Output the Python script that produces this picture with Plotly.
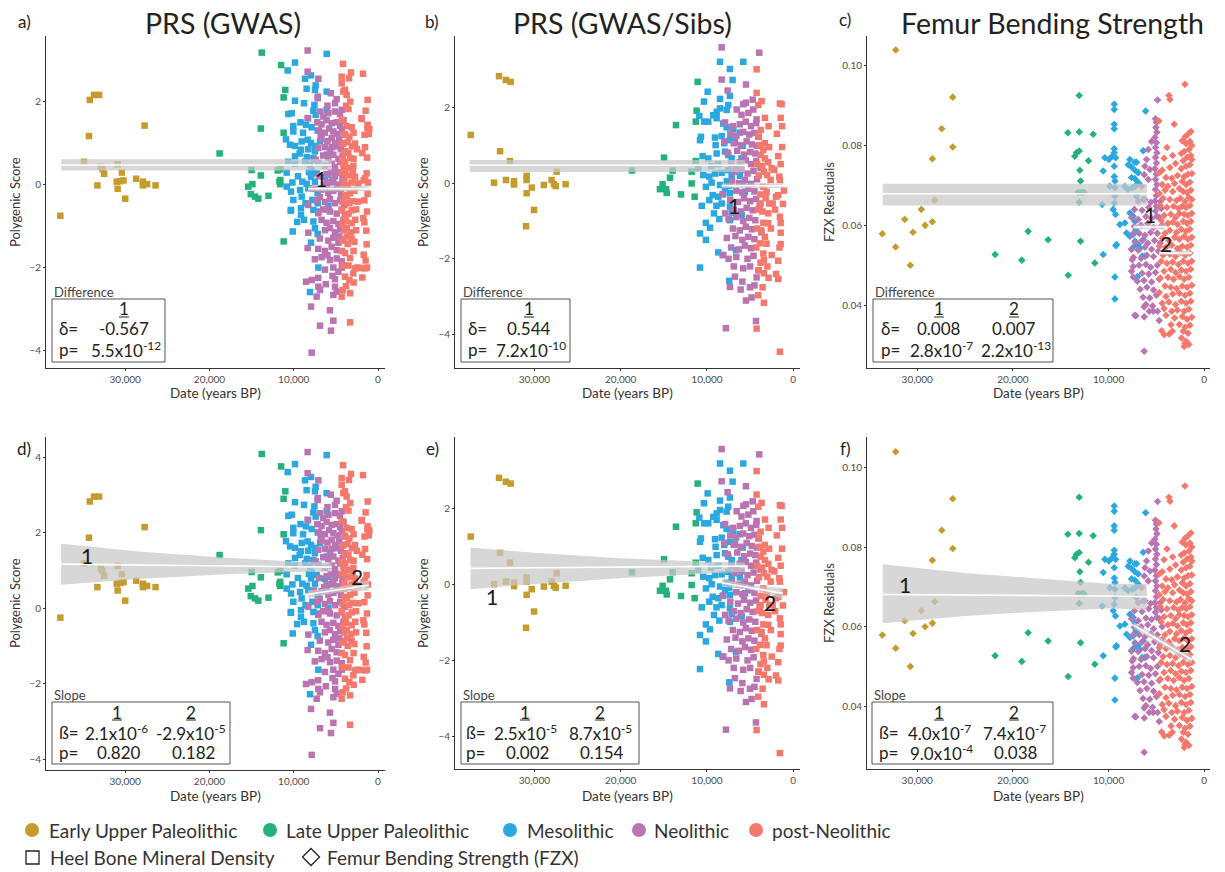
import plotly.graph_objects as go

W, H = 1225, 872
FONT = "Lato"

# ---------------- categories / styling ----------------
period_names = ["Early Upper Paleolithic", "Late Upper Paleolithic", "Mesolithic",
                "Neolithic", "post-Neolithic"]
period_colors = ["#C59B2C", "#23B27A", "#2BA8E0", "#BA74B2", "#F5786C"]
date_ticks = [30, 20, 10, 0]
date_tick_labels = ["30,000", "20,000", "10,000", "0"]

# ---------------- PRS (GWAS): (date ka BP, score in panel a, score in panel d) ----------------
gwas_eup = [(37.7,-0.75,-0.25),(34.9,0.55,1.19),(34.2,2.04,2.83),(33.7,2.16,2.96),(33.1,2.16,2.96),
            (34.3,1.17,1.87),(32.9,0.43,1.05),(32.5,0.26,0.86),(33.3,-0.02,0.56),(32.7,0.37,0.99),
            (30.9,0.49,1.12),(30.4,0.29,0.90),(31.0,0.07,0.65),(30.2,0.10,0.69),(30.9,-0.10,0.47),
            (30.0,-0.34,0.20),(27.7,1.42,2.15),(28.7,0.14,0.73),(27.9,0.07,0.65),(27.9,-0.02,0.56),
            (27.4,0.01,0.59),(26.4,-0.02,0.56),(30.6,0.08,0.67)]
gwas_lup = [(13.8,3.18,4.09),(11.5,2.88,3.76),(11.0,2.28,3.10),(11.2,2.10,2.90),(13.9,1.35,2.07),
            (11.2,1.25,1.96),(18.8,0.75,1.41),(15.0,0.35,0.96),(13.9,0.22,0.82),(11.9,0.34,0.95),
            (11.6,0.11,0.70),(11.6,0.01,0.59),(15.4,-0.05,0.52),(14.9,0.01,0.59),(15.1,-0.23,0.32),
            (14.6,-0.29,0.26),(14.2,-0.34,0.20),(13.0,-0.27,0.28),(11.2,-1.37,-0.93),(11.6,0.37,0.99),
            (11.7,0.07,0.65)]
gwas_meso = [(6.09,3.15,4.06),(9.85,2.94,3.82),(10.72,2.75,3.61),(7.95,2.63,3.48),(8.66,2.55,3.39),
             (6.09,2.24,3.05),(7.4,2.39,3.22),(7.48,2.28,3.10),(8.47,2.31,3.13),(9.85,2.02,2.81),
             (8.78,1.96,2.74),(7.55,1.92,2.70),(6.09,1.80,2.57),(10.64,1.70,2.45),(10.24,1.72,2.48),
             (7.67,1.78,2.54),(7.4,1.68,2.43),(10.05,1.41,2.13),(10.05,1.28,1.99),(8.54,1.44,2.17),
             (7.87,1.38,2.10),(7.16,1.30,2.01),(10.92,1.09,1.78),(10.44,0.96,1.64),(9.85,0.93,1.60),
             (9.06,1.04,1.73),(8.35,1.08,1.77),(7.95,1.0,1.68),(7.48,0.93,1.60),(6.88,1.04,1.73),
             (9.14,0.84,1.51),(8.27,0.85,1.52),(7.48,0.80,1.46),(9.85,0.68,1.33),(8.46,0.66,1.31),
             (7.67,0.64,1.28),(6.09,0.72,1.37),(10.64,0.55,1.19),(9.85,0.50,1.13),(8.66,0.55,1.19),
             (8.07,0.48,1.11),(7.08,0.52,1.15),(10.84,0.29,0.90),(7.87,0.34,0.95),(7.28,0.27,0.88),
             (5.89,0.23,0.83),(10.16,0.05,0.63),(8.98,0.07,0.65),(8.46,0.02,0.60),(7.95,0.19,0.79),
             (7.48,0.07,0.65),(6.29,0.18,0.78),(5.42,0.07,0.65),(10.84,-0.05,0.52),(10.32,-0.17,0.39),
             (9.25,-0.13,0.43),(8.27,-0.09,0.48),(7.16,-0.21,0.35),(6.09,-0.05,0.52),(10.05,-0.37,0.17),
             (9.06,-0.29,0.26),(7.79,-0.37,0.17),(7.16,-0.45,0.08),(5.89,-0.51,0.01),(10.32,-0.61,-0.10),
             (9.14,-0.57,-0.05),(9.14,-0.73,-0.23),(7.67,-0.61,-0.10),(7.08,-0.65,-0.14),(8.78,-0.85,-0.36),
             (7.67,-0.89,-0.40),(7.48,-1.05,-0.58),(10.12,-1.13,-0.67),(7.16,-1.19,-0.74),(7.95,-1.40,-0.97),
             (7.08,-2.0,-1.63),(8.07,-2.59,-2.28),(10.36,-0.63,-0.12),(8.9,1.25,1.96),(9.3,0.75,1.41),
             (8.2,0.3,0.91),(9.5,0.2,0.80),(8.6,-0.45,0.08),(9.6,-0.9,-0.42),(8.3,1.6,2.34),(9.2,1.5,2.23)]
gwas_neo = [(8.35,3.23,4.14),(8.35,2.72,3.58),(7.08,2.55,3.39),(7.16,2.08,2.87),(4.91,2.06,2.85),
            (5.1,1.96,2.74),(6.88,1.76,2.52),(6.49,1.64,2.39),(5.89,1.72,2.48),(5.1,1.76,2.52),
            (4.51,1.70,2.45),(4.31,1.80,2.57),(7.15,2.12,2.92),
            (8.35,1.60,2.34),(7.2,1.50,2.23),(6.7,1.45,2.18),(6.1,1.55,2.29),(5.5,1.48,2.21),
            (4.9,1.50,2.23),(4.5,1.42,2.15),(4.1,1.55,2.29),
            (7.0,1.30,2.01),(6.3,1.25,1.96),(5.8,1.35,2.07),(5.3,1.28,1.99),(4.8,1.22,1.93),
            (4.3,1.32,2.03),(3.9,1.20,1.90),
            (6.7,1.10,1.79),(6.0,1.05,1.74),(5.5,1.12,1.81),(5.1,1.00,1.68),(4.6,1.08,1.77),(4.1,1.00,1.68),
            (7.1,0.88,1.55),(6.3,0.90,1.57),(5.7,0.82,1.48),(4.9,0.92,1.59),(4.4,0.85,1.52),(3.9,0.80,1.46),
            (6.5,0.70,1.35),(5.9,0.65,1.30),(5.3,0.72,1.37),(4.7,0.62,1.26),(4.2,0.68,1.33),
            (6.3,0.45,1.07),(5.5,0.50,1.13),(5.1,0.42,1.04),(4.5,0.55,1.19),(4.0,0.40,1.02),
            (6.1,0.25,0.85),(5.6,0.30,0.91),(5.1,0.20,0.80),(4.6,0.28,0.89),(4.2,0.18,0.78),
            (5.7,0.05,0.63),(5.3,0.10,0.69),(4.8,0.00,0.58),(4.2,0.08,0.67),(6.4,-0.02,0.56),
            (6.7,-0.12,0.45),(5.9,-0.20,0.36),(5.3,-0.15,0.41),(4.9,-0.10,0.47),(4.4,-0.22,0.34),
            (8.27,-0.49,0.04),(7.3,-0.38,0.16),(6.3,-0.42,0.11),(5.7,-0.35,0.19),(5.1,-0.45,0.08),
            (4.5,-0.38,0.16),(4.0,-0.50,0.03),
            (7.1,-0.69,-0.18),(6.5,-0.60,-0.08),(5.7,-0.65,-0.14),(4.9,-0.70,-0.19),(4.3,-0.62,-0.11),
            (3.9,-0.75,-0.25),
            (6.7,-0.85,-0.36),(6.1,-0.92,-0.44),(5.3,-0.88,-0.39),(4.7,-0.95,-0.47),(4.1,-0.85,-0.36),
            (8.27,-1.16,-0.70),(6.3,-1.10,-0.64),(5.7,-1.05,-0.58),(5.1,-1.15,-0.69),(4.5,-1.08,-0.61),
            (6.9,-1.30,-0.86),(5.9,-1.35,-0.91),(5.3,-1.28,-0.84),(4.7,-1.40,-0.97),(4.1,-1.32,-0.88),
            (8.35,-1.53,-1.11),(7.1,-1.55,-1.13),(6.3,-1.60,-1.19),(5.5,-1.50,-1.08),(4.9,-1.58,-1.17),
            (7.5,-1.80,-1.41),(6.7,-1.75,-1.35),(5.7,-1.82,-1.43),(4.9,-1.78,-1.39),(4.3,-1.85,-1.46),
            (6.3,-2.05,-1.69),(5.3,-2.00,-1.63),(4.7,-2.10,-1.74),
            (7.87,-2.30,-1.96),(7.1,-2.25,-1.91),(5.1,-2.28,-1.94),(8.54,-2.34,-2.01),
            (7.08,-2.46,-2.14),(6.88,-2.54,-2.23),(5.1,-2.46,-2.14),(4.91,-2.58,-2.27),(5.3,-2.66,-2.36),
            (7.28,-2.70,-2.40),
            (7.95,-2.94,-2.67),(5.7,-3.03,-2.77),(5.3,-3.28,-3.04),(6.88,-3.40,-3.18),(5.58,-3.52,-3.31),
            (7.87,-4.05,-3.89),
            (6.0,1.9,2.68),(5.6,2.2,3.01),(6.8,1.2,1.90),(5.0,0.3,0.91),(5.9,-0.6,-0.08),(6.9,-0.3,0.25),
            (4.6,-1.25,-0.80),(6.0,-1.7,-1.30),(5.4,-2.2,-1.85),(6.2,-2.4,-2.07),(7.4,0.6,1.24),
            (7.6,-0.1,0.47),(7.0,0.2,0.80),(4.3,-2.0,-1.63),(5.5,0.9,1.57),(6.1,0.05,0.63)]
gwas_post = [(4.15,2.91,3.79),(3.21,2.70,3.56),(3.44,2.56,3.40),(1.78,2.67,3.53),(4.31,2.60,3.45),
             (4.31,2.44,3.27),(4.11,2.24,3.05),(3.92,2.28,3.10),(3.72,2.16,2.96),(1.23,2.04,2.83),
             (3.52,1.82,2.59),(1.47,1.78,2.54),(1.94,1.58,2.32),(1.23,1.44,2.17),(1.03,1.34,2.06),
             (4.31,1.56,2.30),(3.72,1.41,2.13),(3.13,1.38,2.10),
             (4.0,1.22,1.93),(3.4,1.15,1.85),(2.9,1.25,1.96),(1.6,1.20,1.90),
             (4.2,0.98,1.66),(3.6,1.02,1.70),(2.73,0.99,1.67),(3.1,0.92,1.59),
             (4.0,0.78,1.44),(3.52,0.76,1.42),(1.54,0.90,1.57),(1.86,0.76,1.42),(2.5,0.85,1.52),
             (4.3,0.60,1.24),(3.32,0.64,1.28),(2.9,0.62,1.26),(1.3,0.65,1.30),
             (4.11,0.47,1.10),(2.93,0.45,1.07),(3.6,0.40,1.02),
             (3.92,0.27,0.88),(2.73,0.19,0.79),(1.35,0.27,0.88),(1.54,0.15,0.74),(3.4,0.22,0.82),
             (4.3,0.30,0.91),
             (3.13,0.05,0.63),(2.34,0.03,0.61),(4.0,0.08,0.67),(3.6,-0.02,0.56),(1.2,0.05,0.63),
             (1.7,0.10,0.69),
             (4.11,-0.05,0.52),(3.32,-0.21,0.35),(1.23,-0.22,0.34),(2.8,-0.15,0.41),(3.9,-0.25,0.30),
             (2.34,-0.41,0.13),(1.62,-0.38,0.16),(3.72,-0.29,0.26),(4.2,-0.42,0.11),(3.0,-0.40,0.14),
             (3.13,-0.62,-0.11),(3.92,-0.77,-0.27),(1.31,-0.65,-0.14),(3.5,-0.70,-0.19),(2.6,-0.60,-0.08),
             (4.3,-0.60,-0.08),
             (1.74,-0.81,-0.32),(1.62,-0.91,-0.43),(3.13,-0.93,-0.45),(3.8,-0.88,-0.39),(4.2,-0.95,-0.47),
             (2.7,-0.85,-0.36),
             (3.72,-1.05,-0.58),(1.39,-1.11,-0.65),(3.2,-1.15,-0.69),(4.0,-1.10,-0.64),
             (3.13,-1.30,-0.86),(3.6,-1.43,-1.00),(1.35,-1.44,-1.01),(4.2,-1.35,-0.91),(2.8,-1.38,-0.95),
             (3.92,-1.65,-1.24),(3.32,-1.77,-1.38),(1.7,-1.69,-1.29),(1.47,-1.83,-1.44),(4.3,-1.60,-1.19),
             (2.9,-1.60,-1.19),
             (4.11,-1.95,-1.57),(2.73,-2.02,-1.65),(2.14,-2.01,-1.64),(1.54,-2.02,-1.65),(3.5,-1.95,-1.57),
             (1.3,-2.00,-1.63),(2.45,-2.00,-1.63),
             (2.93,-2.14,-1.78),(3.92,-2.22,-1.87),(2.89,-2.36,-2.03),(1.86,-2.24,-1.90),(3.4,-2.30,-1.96),
             (4.19,-2.54,-2.23),(4.31,-2.70,-2.40),(3.32,-2.62,-2.31),(3.8,-2.45,-2.13),
             (3.32,-3.32,-3.09),
             (1.93,1.60,2.34),(1.26,1.37,2.09),(1.1,1.22,1.93),
             (3.8,1.9,2.68),(3.3,2.0,2.79),(4.0,0.0,0.58),(3.0,0.3,0.91),(3.7,-1.25,-0.80),
             (3.9,0.55,1.19),(2.6,-1.1,-0.64),(3.4,-0.45,0.08)]

# ---------------- PRS (GWAS/Sibs): (date ka BP, score) -- panels b and e ----------------
sibs_eup = [(37.38,1.27),(34.1,2.82),(33.3,2.72),(32.75,2.67),(33.98,0.84),(32.83,0.58),(34.68,0.01),
            (33.29,0.08),(32.36,0.05),(32.36,-0.04),(30.9,0.19),(30.9,0.08),(30.3,-0.12),(30.9,-0.27),
            (30.04,-0.71),(30.97,-1.14),(28.9,-0.05),(28.0,0.08),(27.73,-0.03),(27.53,-0.08),
            (27.42,0.30),(26.38,-0.03)]
sibs_lup = [(11.08,2.67),(11.2,1.91),(11.3,1.62),(13.59,1.53),(14.98,0.67),(18.69,0.33),(13.98,0.33),
            (11.3,0.58),(11.78,0.30),(14.29,0.14),(15.14,-0.03),(15.45,-0.16),(14.75,-0.16),
            (14.67,-0.26),(13.01,-0.30),(11.78,-0.01),(11.43,-0.36)]
sibs_meso = [(8.49,3.2),(5.79,3.2),(7.34,3.01),(7.03,2.72),(9.92,2.41),(8.49,2.22),(7.34,2.30),
             (10.35,2.15),(7.53,2.06),(7.72,1.93),(8.49,1.97),(8.88,1.88),(10.89,1.77),(10.31,1.62),
             (9.85,1.62),(9.27,1.79),(8.88,1.71),(8.11,1.57),(7.72,1.47),(6.95,1.42),(10.81,1.13),
             (10.7,1.22),(9.07,1.20),(8.3,1.24),(7.34,1.13),(6.76,1.09),(6.18,1.33),(5.87,0.98),
             (10.5,0.71),(9.85,0.65),(8.88,0.78),(7.91,0.83),(7.53,0.74),(7.14,0.65),(6.0,0.65),
             (11.0,0.39),(10.43,0.21),(9.73,0.17),(9.07,0.25),(8.3,0.27),(7.53,0.34),(7.14,0.21),
             (6.18,0.19),(10.12,-0.10),(9.46,0.01),(8.49,-0.05),(7.91,-0.14),(7.41,-0.08),(5.79,-0.01),
             (9.34,-0.32),(8.69,-0.36),(8.11,-0.29),(7.34,-0.27),(5.6,-0.23),(9.73,-0.45),(8.3,-0.54),
             (7.34,-0.62),(9.19,-0.80),(7.14,-0.78),(5.98,-0.84),(8.57,-0.95),(7.34,-0.98),
             (10.12,-1.05),(9.65,-1.18),(10.81,-1.33),(10.12,-1.50),(8.69,-1.83),(8.18,-1.90),
             (6.64,-1.77),(10.81,-2.23),(7.41,-2.58),(9.0,1.0),(8.0,1.05),(9.5,0.45),(8.7,0.5),
             (7.7,0.05),(8.9,-0.6),(6.6,0.4),(10.6,-0.6)]
sibs_neo = [(8.3,3.58),(3.94,3.44),(8.3,2.73),(5.48,2.60),(7.61,2.44),(5.48,2.12),(5.79,2.08),
            (6.56,1.94),(4.63,1.94),(4.25,1.68),(4.32,-3.64),(7.8,-3.83),(4.83,-3.02),(5.48,-3.10),
            (6.1,-2.81),(5.02,-2.75),(7.34,-2.74),(6.76,-2.47),(4.25,-2.49),
            (7.9,1.6),(7.0,1.5),(6.2,1.55),(5.5,1.62),(4.9,1.5),(4.3,1.58),
            (7.3,1.3),(6.6,1.25),(5.8,1.35),(5.1,1.28),(4.5,1.32),(4.0,1.22),
            (6.9,1.05),(6.1,1.0),(5.4,1.1),(4.8,1.02),(4.2,0.98),
            (7.6,0.8),(6.5,0.85),(5.7,0.75),(5.0,0.82),(4.4,0.78),
            (6.2,0.55),(5.5,0.6),(4.9,0.5),(4.3,0.58),(7.2,0.5),
            (6.8,0.3),(6.0,0.35),(5.3,0.25),(4.6,0.32),
            (7.1,0.05),(6.3,0.0),(5.6,0.08),(4.9,-0.02),(4.2,0.1),
            (6.6,-0.2),(5.9,-0.25),(5.2,-0.15),(4.5,-0.22),
            (7.3,-0.45),(6.4,-0.5),(5.7,-0.4),(5.0,-0.48),(4.3,-0.42),
            (6.9,-0.7),(6.1,-0.75),(5.4,-0.65),(4.7,-0.72),
            (7.5,-0.95),(6.6,-0.9),(5.8,-1.0),(5.1,-0.92),(4.4,-0.98),
            (7.0,-1.2),(6.2,-1.25),(5.5,-1.15),(4.8,-1.22),
            (7.7,-1.45),(6.7,-1.4),(5.9,-1.5),(5.2,-1.42),(4.5,-1.48),
            (7.2,-1.7),(6.3,-1.75),(5.6,-1.65),(4.9,-1.72),
            (7.5,-2.0),(6.6,-1.95),(5.3,-2.0),(4.6,-1.92),
            (6.9,-2.2),(5.8,-2.25),(5.0,-2.2),
            (8.0,1.1),(8.2,-0.3),(7.9,-0.8),(8.1,-1.9),(3.8,0.4),(3.9,-0.6),(3.7,-1.3),(4.0,-2.3),
            (5.2,1.85),(6.0,1.8),(4.7,2.2),(5.9,-2.6),(4.5,-2.7)]
sibs_post = [(4.25,3.0),(4.25,2.38),(3.67,2.16),(4.06,2.06),(1.55,2.1),(1.35,2.08),(3.28,1.72),
             (1.46,1.72),(2.86,1.5),(3.78,1.40),(4.06,1.22),(3.47,0.87),(3.28,0.65),(2.51,0.39),
             (3.78,0.74),(1.74,0.71),(1.46,0.5),(3.01,0.21),(2.62,0.08),(1.62,0.17),(1.55,0.08),
             (1.08,-0.2),(3.47,-0.1),(3.09,-0.23),(1.74,-0.32),(2.0,-0.36),(3.78,-0.54),(2.78,-0.54),
             (2.39,-0.54),(1.55,-0.89),(1.46,-1.05),(3.47,-1.05),(2.9,-1.06),(3.28,-1.42),(1.46,-1.31),
             (3.86,-1.59),(1.46,-1.61),(3.47,-1.86),(3.4,-2.03),(1.74,-2.05),(4.06,-2.3),(3.4,-2.38),
             (2.86,-2.5),(1.74,-2.53),(3.55,-2.75),(4.06,-2.96),(3.4,-3.16),(4.25,-3.84),(1.55,-4.45),
             (3.9,1.0),(3.3,1.05),(2.8,0.95),(4.2,0.5),(3.6,0.45),(2.9,0.55),(4.0,0.2),(3.4,0.3),
             (2.2,0.35),(3.8,-0.3),(3.2,-0.4),(4.1,-0.7),(3.6,-0.75),(2.9,-0.8),(2.1,-0.7),(4.2,-1.2),
             (3.7,-1.25),(2.6,-1.2),(3.1,-1.6),(4.3,-1.7),(2.5,-1.9),(3.8,-2.1),(3.0,-2.2),(1.3,0.95),
             (1.2,-0.55),(1.9,1.3),(1.3,1.5),(1.6,-1.7),(2.0,-2.4)]

# ---------------- Femur bending strength: (date ka BP, FZX residual) -- panels c and f ----------------
fzx_eup = [(32.25,0.1039),(33.65,0.0579),(32.25,0.0546),(30.72,0.0500),(31.31,0.0615),(30.44,0.0583),
           (29.57,0.0640),(29.18,0.0600),(28.42,0.0609),(28.42,0.0767),(28.17,0.0663),(27.44,0.0842),
           (26.29,0.0921),(26.29,0.0796)]
fzx_lup = [(13.07,0.0925),(14.26,0.0832),(13.07,0.0834),(11.61,0.0828),(13.53,0.0773),(13.35,0.0782),
           (13.07,0.0786),(12.10,0.0762),(13.0,0.0738),(12.93,0.0711),(13.18,0.0683),(12.83,0.0683),
           (12.59,0.0683),(13.07,0.0658),(18.41,0.0585),(16.32,0.0564),(12.93,0.0560),(21.86,0.0527),
           (19.07,0.0513),(11.44,0.0506),(14.22,0.0475)]
fzx_meso = [(9.41,0.0903),(9.41,0.0890),(6.13,0.0886),(9.41,0.0853),(9.41,0.0842),(9.41,0.0792),
            (9.41,0.0782),(6.38,0.0787),(10.39,0.0769),(9.97,0.0765),(9.62,0.0773),(9.27,0.0769),
            (7.77,0.0765),(7.25,0.0758),(7.08,0.0758),(9.41,0.0748),(7.95,0.0752),(7.60,0.0746),
            (7.25,0.0738),(6.90,0.0732),(10.56,0.0736),(9.41,0.0722),(9.34,0.0711),(7.60,0.0720),
            (7.25,0.0717),(6.90,0.0707),(9.87,0.0698),(9.34,0.0694),(8.30,0.0697),(7.95,0.0690),
            (7.53,0.0694),(7.25,0.0697),(10.67,0.0652),(9.34,0.0673),(9.41,0.0656),(7.08,0.0673),
            (6.38,0.0665),(9.52,0.0640),(9.27,0.0627),(7.77,0.0631),(7.43,0.0623),(7.25,0.0610),
            (8.82,0.0602),(8.30,0.0606),(8.12,0.0581),(7.77,0.0573),(7.43,0.0577),(7.25,0.0560),
            (9.17,0.0552),(7.60,0.0540),(7.32,0.0548),(10.56,0.0527),(9.34,0.0471),(7.08,0.0468),
            (9.34,0.0416),(6.20,0.0523),(6.38,0.0564),(9.24,0.0549),(7.15,0.0589),(6.90,0.0552),
            (6.73,0.0543),(6.49,0.0523),(6.97,0.0472)]
fzx_neo = [(5.1,0.0867),(5.0,0.0858),(5.05,0.0845),(4.95,0.0833),(5.15,0.0820),(5.0,0.0807),
           (5.1,0.0795),(4.95,0.0782),(5.1,0.0770),(5.0,0.0756),(5.16,0.0742),(5.0,0.0728),
           (5.1,0.0715),(4.95,0.0702),(5.1,0.0690),(5.0,0.0675),(5.16,0.0661),(5.0,0.0648),
           (5.1,0.0636),(4.95,0.0623),
           (4.88,0.0914),(5.51,0.0810),(5.85,0.0790),(6.03,0.0765),(6.2,0.0748),(5.68,0.0740),
           (6.27,0.0727),(5.85,0.0715),(6.55,0.0698),
           (6.9,0.0660),(6.2,0.0665),(5.6,0.0658),(4.6,0.0660),
           (7.3,0.0640),(6.5,0.0638),(5.8,0.0645),(4.5,0.0642),
           (7.6,0.0620),(6.9,0.0615),(6.1,0.0622),(5.5,0.0618),(4.7,0.0620),
           (7.3,0.0598),(6.6,0.0600),(5.9,0.0605),(5.3,0.0595),(4.4,0.0600),
           (7.5,0.0578),(6.8,0.0580),(6.2,0.0575),(5.6,0.0582),(4.9,0.0580),
           (7.2,0.0558),(6.5,0.0562),(5.9,0.0555),(5.2,0.0562),(4.6,0.0555),
           (7.6,0.0540),(6.9,0.0538),(6.2,0.0545),(5.5,0.0540),(4.8,0.0535),
           (7.4,0.0520),(6.6,0.0518),(6.0,0.0525),(5.3,0.0522),
           (7.53,0.0514),(7.43,0.0497),(6.8,0.0500),(6.1,0.0502),(5.6,0.0495),(4.9,0.0500),
           (7.6,0.0485),(6.5,0.0480),(5.8,0.0478),(5.1,0.0482),
           (7.43,0.0471),(7.0,0.0460),(6.3,0.0462),(5.5,0.0458),(4.7,0.0465),
           (6.7,0.0440),(6.0,0.0445),(5.3,0.0438),
           (6.4,0.0420),(5.7,0.0418),(5.0,0.0425),
           (6.1,0.0402),(5.4,0.0398),
           (7.25,0.0375),(6.28,0.0396),(5.75,0.0385),(4.71,0.0362),(6.28,0.0285),(5.33,0.0385),
           (4.88,0.0385),(6.27,0.0371),(7.15,0.0374)]
fzx_post = [(1.4,0.0835),(1.7,0.0828),(2.0,0.0822),
            (1.5,0.0810),(1.9,0.0805),(2.3,0.0812),(1.3,0.0800),
            (1.6,0.0790),(2.1,0.0785),(1.4,0.0775),(2.4,0.0780),(3.9,0.0795),
            (1.8,0.0770),(1.3,0.0765),(2.2,0.0762),(3.3,0.0775),(4.2,0.0768),
            (1.5,0.0752),(1.9,0.0748),(2.4,0.0742),(3.0,0.0755),(3.6,0.0745),(4.4,0.0738),
            (1.3,0.0730),(1.7,0.0728),(2.1,0.0722),(2.8,0.0725),(3.4,0.0718),(4.0,0.0720),(4.7,0.0732),
            (1.5,0.0708),(1.9,0.0702),(2.3,0.0710),(3.1,0.0705),(3.8,0.0698),(4.4,0.0702),
            (1.4,0.0688),(1.8,0.0682),(2.2,0.0685),(2.6,0.0692),(3.3,0.0685),(4.1,0.0688),(4.7,0.0680),
            (1.3,0.0665),(1.6,0.0670),(2.0,0.0660),(2.5,0.0668),(2.9,0.0662),(3.6,0.0665),(4.3,0.0668),
            (1.5,0.0650),(1.9,0.0645),(2.3,0.0648),(2.7,0.0642),(3.2,0.0648),(3.9,0.0645),(4.6,0.0650),
            (1.3,0.0630),(1.7,0.0625),(2.1,0.0628),(2.6,0.0630),(3.0,0.0620),(3.5,0.0628),(4.2,0.0625),
            (1.4,0.0610),(1.8,0.0605),(2.2,0.0610),(2.8,0.0602),(3.3,0.0608),(3.8,0.0605),(4.5,0.0612),
            (1.5,0.0590),(1.9,0.0585),(2.4,0.0590),(2.9,0.0582),(3.6,0.0588),(4.1,0.0580),
            (1.3,0.0570),(1.7,0.0565),(2.1,0.0572),(2.6,0.0565),(3.1,0.0570),(3.7,0.0562),(4.4,0.0568),
            (1.4,0.0550),(1.8,0.0545),(2.3,0.0548),(2.8,0.0542),(3.4,0.0550),(4.0,0.0545),(4.7,0.0548),
            (1.5,0.0530),(2.0,0.0525),(2.5,0.0532),(3.0,0.0522),(3.6,0.0528),(4.3,0.0525),
            (1.3,0.0510),(1.7,0.0505),(2.2,0.0510),(2.7,0.0502),(3.3,0.0508),(3.9,0.0505),(4.5,0.0510),
            (1.4,0.0490),(1.9,0.0485),(2.4,0.0488),(3.0,0.0482),(3.5,0.0490),(4.2,0.0485),
            (1.6,0.0470),(2.1,0.0465),(2.6,0.0472),(3.2,0.0465),(3.8,0.0470),(4.6,0.0468),
            (1.3,0.0450),(1.8,0.0445),(2.3,0.0448),(2.9,0.0442),(3.5,0.0445),(4.1,0.0448),
            (1.5,0.0430),(2.0,0.0425),(2.6,0.0430),(3.3,0.0428),(4.0,0.0422),(4.7,0.0432),
            (1.4,0.0410),(1.9,0.0405),(2.4,0.0410),(3.0,0.0402),(3.7,0.0408),(4.4,0.0405),
            (1.6,0.0390),(2.1,0.0385),(2.8,0.0388),(3.4,0.0385),(4.2,0.0392),
            (1.3,0.0370),(1.8,0.0365),(2.3,0.0372),(3.1,0.0368),(4.0,0.0375),
            (1.5,0.0350),(2.0,0.0345),(2.6,0.0352),(3.48,0.0351),
            (1.7,0.0330),(2.2,0.0335),(3.34,0.0335),(4.46,0.0336),
            (1.9,0.0310),(2.37,0.0318),(4.18,0.0326),(3.66,0.0328),
            (2.02,0.0305),(2.09,0.0297),(1.6,0.0302),
            (2.02,0.0953),(3.69,0.0925),(3.58,0.0915),(3.14,0.0853),(4.74,0.0861)]

# ---------------- fitted segments: dates, fit, lower CI, upper CI ----------------
fit_a1 = dict(x=[37.6, 5.5], y=[0.47, 0.47], lo=[0.34, 0.34], hi=[0.61, 0.61])
fit_a2 = dict(x=[8.3, 1.1], y=[-0.10, -0.10], lo=[-0.16, -0.16], hi=[-0.04, -0.04])
fit_b1 = dict(x=[37.5, 5.6], y=[0.47, 0.47], lo=[0.29, 0.29], hi=[0.61, 0.61])
fit_b2 = dict(x=[8.3, 1.2], y=[-0.07, -0.07], lo=[-0.13, -0.13], hi=[-0.01, -0.01])
fit_c1 = dict(x=[33.6, 6.0], y=[0.0679, 0.0679], lo=[0.0650, 0.0650], hi=[0.0704, 0.0704])
fit_c2 = dict(x=[7.4, 4.1], y=[0.0596, 0.0596], lo=[0.0590, 0.0590], hi=[0.0602, 0.0602])
fit_c3 = dict(x=[4.7, 1.3], y=[0.0531, 0.0531], lo=[0.0526, 0.0526], hi=[0.0536, 0.0536])
fit_d1 = dict(x=[37.6, 28, 18, 10, 5.5], y=[1.17, 1.14, 1.12, 1.10, 1.09],
              lo=[0.62, 0.78, 0.90, 0.96, 0.97], hi=[1.71, 1.50, 1.34, 1.24, 1.21])
fit_d2 = dict(x=[8.3, 4.7, 1.1], y=[0.37, 0.49, 0.61], lo=[0.27, 0.42, 0.47], hi=[0.47, 0.56, 0.75])
fit_e1 = dict(x=[37.4, 30, 20, 10.8, 5.6], y=[0.43, 0.44, 0.46, 0.475, 0.49],
              lo=[-0.12, 0.02, 0.17, 0.28, 0.34], hi=[0.98, 0.84, 0.70, 0.61, 0.58])
fit_e2 = dict(x=[8.3, 4.7, 1.2], y=[0.05, -0.09, -0.23], lo=[-0.05, -0.15, -0.37], hi=[0.15, -0.03, -0.09])
fit_f1 = dict(x=[33.6, 25, 18, 10, 6.0], y=[0.0681, 0.0680, 0.0679, 0.0677, 0.0675],
              lo=[0.0609, 0.0627, 0.0637, 0.0646, 0.0642], hi=[0.0757, 0.0735, 0.0722, 0.0708, 0.0707])
fit_f2 = dict(x=[7.4, 1.3], y=[0.0604, 0.0517], lo=[0.0596, 0.0507], hi=[0.0612, 0.0527])

# ---------------- figure ----------------
fig = go.Figure()


def fx(p):
    return p / W


def fy(p):
    return 1 - p / H


def col(rows, k):
    return [r[k] for r in rows]


axis_style = dict(showline=True, linecolor="#333333", linewidth=1, ticks="outside", ticklen=2,
                  tickcolor="#333333", tickwidth=1, showgrid=False, zeroline=False,
                  tickfont=dict(family=FONT, size=10, color="#4d4d4d"))

# name, x-domain px, y-domain px, x range, y range, y ticks, y tick format
specs = [
    ("a", (46, 385), (36, 368), [39.4, -0.83], [-4.42, 3.58], [-4, -2, 0, 2], None),
    ("b", (455, 800), (36, 368), [39.2, -0.78], [-4.88, 3.88], [-4, -2, 0, 2], None),
    ("c", (867, 1210), (36, 368), [35.25, -0.6], [0.0243, 0.1074], [0.04, 0.06, 0.08, 0.10], ".2f"),
    ("d", (46, 385), (437, 770), [39.4, -0.83], [-4.29, 4.54], [-4, -2, 0, 2, 4], None),
    ("e", (455, 800), (437, 769), [39.2, -0.78], [-4.87, 3.90], [-4, -2, 0, 2], None),
    ("f", (867, 1210), (437, 769), [35.25, -0.6], [0.0243, 0.1076], [0.04, 0.06, 0.08, 0.10], ".2f"),
]
axes = {}
for i, (nm, xd, yd, xr, yr, ytv, yfmt) in enumerate(specs, start=1):
    s = "" if i == 1 else str(i)
    axes["xaxis" + s] = dict(domain=[fx(xd[0]), fx(xd[1])], range=xr, anchor="y" + s,
                             tickvals=date_ticks, ticktext=date_tick_labels, **axis_style)
    ya = dict(domain=[fy(yd[1]), fy(yd[0])], range=yr, anchor="x" + s, tickvals=ytv, **axis_style)
    if yfmt:
        ya["tickformat"] = yfmt
    axes["yaxis" + s] = ya

gwas_groups = [gwas_eup, gwas_lup, gwas_meso, gwas_neo, gwas_post]
sibs_groups = [sibs_eup, sibs_lup, sibs_meso, sibs_neo, sibs_post]
fzx_groups = [fzx_eup, fzx_lup, fzx_meso, fzx_neo, fzx_post]

panel_points = {
    1: ([(col(g, 0), col(g, 1)) for g in gwas_groups], "square"),
    2: ([(col(g, 0), col(g, 1)) for g in sibs_groups], "square"),
    3: ([(col(g, 0), col(g, 1)) for g in fzx_groups], "diamond"),
    4: ([(col(g, 0), col(g, 2)) for g in gwas_groups], "square"),
    5: ([(col(g, 0), col(g, 1)) for g in sibs_groups], "square"),
    6: ([(col(g, 0), col(g, 1)) for g in fzx_groups], "diamond"),
}
panel_fits = {1: [fit_a1, fit_a2], 2: [fit_b1, fit_b2], 3: [fit_c1, fit_c2, fit_c3],
              4: [fit_d1, fit_d2], 5: [fit_e1, fit_e2], 6: [fit_f1, fit_f2]}

for i in range(1, 7):
    s = "" if i == 1 else str(i)
    groups, sym = panel_points[i]
    for (xs, ys), c in zip(groups, period_colors):
        fig.add_trace(go.Scatter(
            x=xs, y=ys, mode="markers", xaxis="x" + s, yaxis="y" + s, showlegend=False,
            hoverinfo="skip",
            marker=dict(symbol=sym, size=6.5 if sym == "square" else 5.8, color=c, line=dict(width=0))))
    for ft in panel_fits[i]:
        fig.add_trace(go.Scatter(
            x=ft["x"] + ft["x"][::-1], y=ft["hi"] + ft["lo"][::-1], mode="lines", fill="toself",
            fillcolor="rgba(200,200,200,0.72)", line=dict(width=0), xaxis="x" + s, yaxis="y" + s,
            showlegend=False, hoverinfo="skip"))
        fig.add_trace(go.Scatter(
            x=ft["x"], y=ft["y"], mode="lines", line=dict(color="white", width=1.6),
            xaxis="x" + s, yaxis="y" + s, showlegend=False, hoverinfo="skip"))

annotations = []
shapes = []

# segment number labels (data coords)
seg_labels = [(1, 6.8, 0.14, "1"), (2, 6.87, -0.58, "1"), (3, 5.68, 0.0627, "1"), (3, 4.0, 0.0554, "2"),
              (4, 34.5, 1.39, "1"), (4, 2.5, 0.84, "2"), (5, 34.9, -0.32, "1"), (5, 2.7, -0.48, "2"),
              (6, 31.3, 0.0705, "1"), (6, 2.0, 0.0558, "2")]
for i, x, y, t in seg_labels:
    s = "" if i == 1 else str(i)
    annotations.append(dict(x=x, y=y, xref="x" + s, yref="y" + s, text=t, showarrow=False,
                            font=dict(family=FONT, size=21, color="#1a1a1a")))

# titles and panel letters (pixel positions)
titles = [("PRS (GWAS)", 223, 23), ("PRS (GWAS/Sibs)", 622, 23), ("Femur Bending Strength", 1052, 23)]
for t, x, y in titles:
    annotations.append(dict(x=fx(x), y=fy(y), xref="paper", yref="paper", text=t, showarrow=False,
                            xanchor="center", yanchor="middle",
                            font=dict(family=FONT, size=28.5, color="#222222")))
letters = [("a)", 24, 21), ("b)", 432, 21), ("c)", 845, 20), ("d)", 24, 448), ("e)", 432, 448),
           ("f)", 845, 448)]
for t, x, y in letters:
    annotations.append(dict(x=fx(x), y=fy(y), xref="paper", yref="paper", text=t, showarrow=False,
                            xanchor="center", yanchor="middle",
                            font=dict(family=FONT, size=17, color="#222222")))

# axis titles
ytitles = [("Polygenic Score", 15, 202), ("Polygenic Score", 423, 202), ("FZX Residuals", 829, 202),
           ("Polygenic Score", 15, 603), ("Polygenic Score", 423, 603), ("FZX Residuals", 829, 603)]
for t, x, y in ytitles:
    annotations.append(dict(x=fx(x), y=fy(y), xref="paper", yref="paper", text=t, showarrow=False,
                            textangle=-90, xanchor="center", yanchor="middle",
                            font=dict(family=FONT, size=13, color="#333333")))
for x, y in [(215, 393), (627, 393), (1038, 393), (215, 796), (627, 796), (1038, 796)]:
    annotations.append(dict(x=fx(x), y=fy(y), xref="paper", yref="paper", text="Date (years BP)",
                            showarrow=False, xanchor="center", yanchor="middle",
                            font=dict(family=FONT, size=13.5, color="#333333")))

# statistics boxes
boxes = [
    # heading, box (x0,x1,y0,y1), stat symbol, label x, column centres, stat values, p values
    ("Difference", (52, 165, 299, 362), "δ=", 57, [124], ["-0.567"], ["5.5x10<sup>-12</sup>"]),
    ("Difference", (461, 570, 299, 362), "δ=", 466, [529], ["0.544"], ["7.2x10<sup>-10</sup>"]),
    ("Difference", (873, 1053, 299, 362), "δ=", 879, [939, 1014], ["0.008", "0.007"],
     ["2.8x10<sup>-7</sup>", "2.2x10<sup>-13</sup>"]),
    ("Slope", (52, 230, 702, 764), "ß=", 57, [117, 191], ["2.1x10<sup>-6</sup>", "-2.9x10<sup>-5</sup>"],
     ["0.820", "0.182"]),
    ("Slope", (461, 639, 702, 764), "ß=", 464, [525, 600], ["2.5x10<sup>-5</sup>", "8.7x10<sup>-5</sup>"],
     ["0.002", "0.154"]),
    ("Slope", (872, 1053, 702, 764), "ß=", 877, [939, 1014], ["4.0x10<sup>-7</sup>", "7.4x10<sup>-7</sup>"],
     ["9.0x10<sup>-4</sup>", "0.038"]),
]
box_font = dict(family=FONT, size=17, color="#222222")
for head, (x0, x1, y0, y1), sym, lx, cols, stats, ps in boxes:
    shapes.append(dict(type="rect", xref="paper", yref="paper", x0=fx(x0), x1=fx(x1), y0=fy(y1),
                       y1=fy(y0), line=dict(color="#555555", width=1), fillcolor="white",
                       layer="above"))
    annotations.append(dict(x=fx(x0), y=fy(y0 - 7), xref="paper", yref="paper", text=head,
                            showarrow=False, xanchor="left", yanchor="middle",
                            font=dict(family=FONT, size=13, color="#444444")))
    annotations.append(dict(x=fx(lx), y=fy(y0 + 30), xref="paper", yref="paper", text=sym,
                            showarrow=False, xanchor="left", yanchor="middle", font=box_font))
    annotations.append(dict(x=fx(lx), y=fy(y0 + 50), xref="paper", yref="paper", text="p=",
                            showarrow=False, xanchor="left", yanchor="middle", font=box_font))
    for k, (cx, sv, pv) in enumerate(zip(cols, stats, ps), start=1):
        annotations.append(dict(x=fx(cx), y=fy(y0 + 10), xref="paper", yref="paper", text=str(k),
                                showarrow=False, xanchor="center", yanchor="middle", font=box_font))
        shapes.append(dict(type="line", xref="paper", yref="paper", x0=fx(cx - 5), x1=fx(cx + 5),
                           y0=fy(y0 + 18), y1=fy(y0 + 18), line=dict(color="#222222", width=1),
                           layer="above"))
        annotations.append(dict(x=fx(cx), y=fy(y0 + 30), xref="paper", yref="paper", text=sv,
                                showarrow=False, xanchor="center", yanchor="middle", font=box_font))
        annotations.append(dict(x=fx(cx + 2), y=fy(y0 + 50), xref="paper", yref="paper", text=pv,
                                showarrow=False, xanchor="center", yanchor="middle", font=box_font))

# legend (drawn manually)
legend_circles = [32, 270, 510, 639, 756]
legend_text_x = [47, 284, 525, 652, 770]
for cx, tx, c, name in zip(legend_circles, legend_text_x, period_colors, period_names):
    shapes.append(dict(type="circle", xref="paper", yref="paper", x0=fx(cx - 7), x1=fx(cx + 7),
                       y0=fy(837), y1=fy(823), fillcolor=c, line=dict(width=0)))
    annotations.append(dict(x=fx(tx), y=fy(830), xref="paper", yref="paper", text=name,
                            showarrow=False, xanchor="left", yanchor="middle",
                            font=dict(family=FONT, size=19, color="#333333")))
shapes.append(dict(type="rect", xref="paper", yref="paper", x0=fx(26), x1=fx(39), y0=fy(864),
                   y1=fy(851), line=dict(color="#222222", width=1.3), fillcolor="rgba(0,0,0,0)"))
annotations.append(dict(x=fx(48), y=fy(857), xref="paper", yref="paper",
                        text="Heel Bone Mineral Density", showarrow=False, xanchor="left",
                        yanchor="middle", font=dict(family=FONT, size=19, color="#333333")))
dcx, dcy, dr = 311, 857, 8.5
shapes.append(dict(type="path", xref="paper", yref="paper",
                   path=f"M {fx(dcx)},{fy(dcy - dr)} L {fx(dcx + dr)},{fy(dcy)} L {fx(dcx)},{fy(dcy + dr)} "
                        f"L {fx(dcx - dr)},{fy(dcy)} Z",
                   line=dict(color="#222222", width=1.3), fillcolor="rgba(0,0,0,0)"))
annotations.append(dict(x=fx(325), y=fy(857), xref="paper", yref="paper",
                        text="Femur Bending Strength (FZX)", showarrow=False, xanchor="left",
                        yanchor="middle", font=dict(family=FONT, size=19, color="#333333")))

fig.update_layout(width=W, height=H, margin=dict(l=0, r=0, t=0, b=0), paper_bgcolor="white",
                  plot_bgcolor="white", showlegend=False, annotations=annotations, shapes=shapes,
                  font=dict(family=FONT), **axes)

fig.write_html("out.html", config={"displayModeBar": False},
               post_script="document.body.style.margin='0';document.body.style.overflow='hidden';")
